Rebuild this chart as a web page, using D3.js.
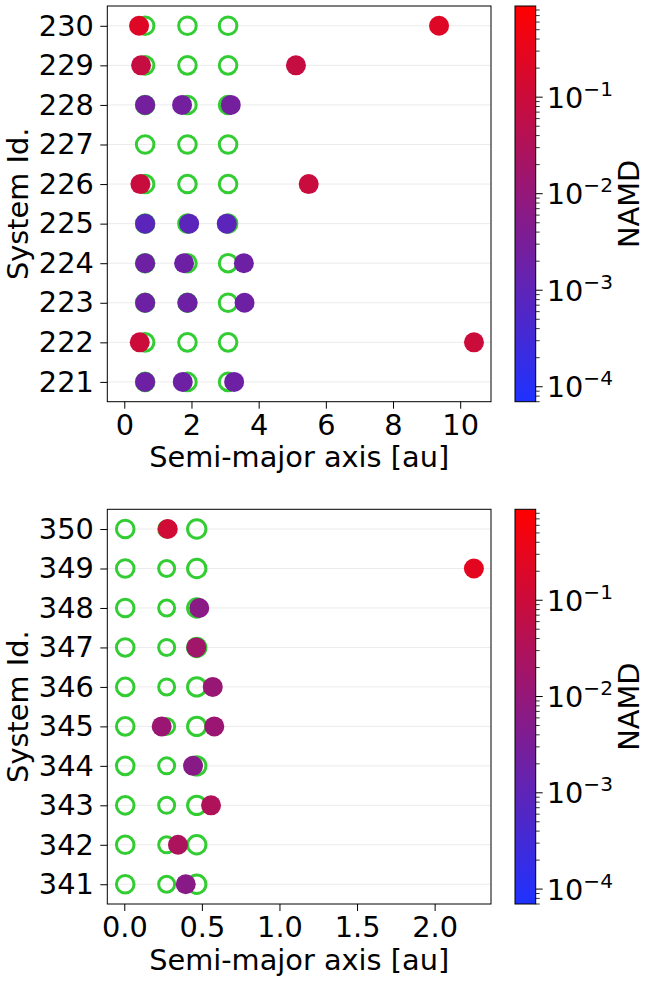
<!DOCTYPE html>
<html>
<head>
<meta charset="utf-8">
<script src="https://cdn.jsdelivr.net/npm/d3@7"></script>
<style>
  html, body { margin: 0; padding: 0; background: #fff; }
  svg { display: block; font-family: "DejaVu Sans", sans-serif; }
</style>
</head>
<body>
<svg id="fig" width="646" height="981"></svg>
<script>
// ---- data: panel 1 (systems 221-230) ----
const topIds = [221, 222, 223, 224, 225, 226, 227, 228, 229, 230];
const topNamd = [0.002, 0.1, 0.002, 0.002, 0.0009, 0.09, null, 0.0025, 0.08, 0.22];
const topRingA = [0.62, 1.88, 3.09];
const topRingR = [8.8, 8.8, 8.8];
const topPlanetSys = [230, 230, 229, 229, 228, 228, 228, 226, 226, 225, 225, 225,
                      224, 224, 224, 223, 223, 223, 222, 222, 221, 221, 221];
const topPlanetA = [0.44, 9.37, 0.50, 5.11, 0.62, 1.72, 3.17, 0.48, 5.49, 0.62, 1.93, 3.05,
                    0.62, 1.78, 3.56, 0.62, 1.88, 3.58, 0.46, 10.41, 0.62, 1.74, 3.27];
const topXTicks = [0, 2, 4, 6, 8, 10];

// ---- data: panel 2 (systems 341-350) ----
const botIds = [341, 342, 343, 344, 345, 346, 347, 348, 349, 350];
const botNamd = [0.006, 0.028, 0.032, 0.006, 0.013, 0.012, 0.017, 0.0065, 0.28, 0.12];
const botRingA = [0.006, 0.273, 0.467];
const botRingR = [8.8, 8.0, 9.2];
const botPlanetSys = [350, 349, 348, 347, 346, 345, 345, 344, 343, 342, 341];
const botPlanetA = [0.28, 2.253, 0.483, 0.464, 0.57, 0.241, 0.58, 0.443, 0.559, 0.346, 0.396];
const botXTicks = [0.0, 0.5, 1.0, 1.5, 2.0];

// colour scale limits and colourbar ticks
const namdMin = 7e-5, namdMax = 0.88;
const cbMajor = [1e-4, 1e-3, 1e-2, 1e-1];
const cbMajorExp = ["\u22124", "\u22123", "\u22122", "\u22121"];

const svg = d3.select("#fig");
const FS = 28.8;
const ringColor = "#32cd32";
const cmap = d3.interpolateRgb("#1e32ff", "#ff0000");
const colorScale = v => cmap((Math.log10(v) - Math.log10(namdMin)) / (Math.log10(namdMax) - Math.log10(namdMin)));

function panel(cfg) {
  const { top, bottom, ids, namd, ringA, ringR, pSys, pA, xDomain, xTicks, xFmt } = cfg;
  const left = 107.3, right = 491;
  const x = d3.scaleLinear().domain(xDomain).range([left, right]);
  const y = d3.scaleLinear().domain([d3.min(ids) - 0.5, d3.max(ids) + 0.5]).range([bottom, top]);
  const g = svg.append("g");

  // horizontal grid
  g.append("g").selectAll("line").data(ids).join("line")
    .attr("x1", left).attr("x2", right)
    .attr("y1", d => y(d)).attr("y2", d => y(d))
    .attr("stroke", "#ebebeb").attr("stroke-width", 1);

  // reference planets (open rings)
  const rings = [];
  ids.forEach(id => ringA.forEach((a, i) => rings.push({ id, a, r: ringR[i] })));
  g.append("g").selectAll("circle").data(rings).join("circle")
    .attr("cx", d => x(d.a)).attr("cy", d => y(d.id)).attr("r", d => d.r)
    .attr("fill", "none").attr("stroke", ringColor).attr("stroke-width", 3);

  // evolved planets, coloured by system NAMD
  const pts = pSys.map((s, i) => ({ s, a: pA[i], v: namd[ids.indexOf(s)] }));
  g.append("g").selectAll("circle").data(pts).join("circle")
    .attr("cx", d => x(d.a)).attr("cy", d => y(d.s)).attr("r", 10)
    .attr("fill", d => colorScale(d.v));

  // axes
  const ax = g.append("g").attr("transform", `translate(0,${bottom})`)
    .call(d3.axisBottom(x).tickValues(xTicks).tickFormat(xFmt).tickSize(7).tickPadding(6));
  const ay = g.append("g").attr("transform", `translate(${left},0)`)
    .call(d3.axisLeft(y).tickValues(ids).tickFormat(d3.format("d")).tickSize(7).tickPadding(6.5));
  [ax, ay].forEach(a => {
    a.select(".domain").remove();
    a.selectAll("text").attr("font-size", FS).attr("fill", "#000").attr("font-family", "DejaVu Sans");
    a.selectAll("line").attr("stroke", "#000").attr("stroke-width", 1);
  });

  // frame
  g.append("rect").attr("x", left).attr("y", top).attr("width", right - left).attr("height", bottom - top)
    .attr("fill", "none").attr("stroke", "#000").attr("stroke-width", 1);

  // axis titles
  g.append("text").attr("x", (left + right) / 2).attr("y", bottom + 65.5)
    .attr("text-anchor", "middle").attr("font-size", FS).text("Semi-major axis [au]");
  g.append("text").attr("transform", `translate(28,${(top + bottom) / 2}) rotate(-90)`)
    .attr("text-anchor", "middle").attr("font-size", FS).text("System Id.");

  // colourbar
  const cbL = 515, cbR = 535.7;
  const cy = d3.scaleLog().domain([namdMin, namdMax]).range([bottom, top]);
  const gradId = "grad" + Math.round(top);
  const grad = svg.append("defs").append("linearGradient").attr("id", gradId)
    .attr("x1", 0).attr("y1", 1).attr("x2", 0).attr("y2", 0);
  d3.range(0, 1.0001, 0.1).forEach(t => grad.append("stop").attr("offset", t).attr("stop-color", cmap(t)));
  g.append("rect").attr("x", cbL).attr("y", top).attr("width", cbR - cbL).attr("height", bottom - top)
    .attr("fill", `url(#${gradId})`).attr("stroke", "#000").attr("stroke-width", 1);

  const minors = [];
  for (let e = -5; e <= 0; e++) for (let m = 2; m <= 9; m++) {
    const v = m * Math.pow(10, e);
    if (v >= namdMin && v <= namdMax) minors.push(v);
  }
  g.append("g").selectAll("line").data(minors).join("line")
    .attr("x1", cbR).attr("x2", cbR + 4).attr("y1", d => cy(d)).attr("y2", d => cy(d))
    .attr("stroke", "#000").attr("stroke-width", 0.8);
  g.append("g").selectAll("line").data(cbMajor).join("line")
    .attr("x1", cbR).attr("x2", cbR + 7).attr("y1", d => cy(d)).attr("y2", d => cy(d))
    .attr("stroke", "#000").attr("stroke-width", 1);
  const lbl = g.append("g").selectAll("text").data(cbMajor).join("text")
    .attr("x", cbR + 11).attr("y", d => cy(d) + 10.5).attr("font-size", FS);
  lbl.append("tspan").text("10");
  lbl.append("tspan").attr("dy", -12).attr("font-size", FS * 0.7).text((d, i) => cbMajorExp[i]);

  g.append("text").attr("transform", `translate(639,${(top + bottom) / 2}) rotate(-90)`)
    .attr("text-anchor", "middle").attr("font-size", FS).text("NAMD");
}

panel({ top: 6, bottom: 401.7, ids: topIds, namd: topNamd, ringA: topRingA, ringR: topRingR,
        pSys: topPlanetSys, pA: topPlanetA, xDomain: [-0.506, 10.917], xTicks: topXTicks, xFmt: d3.format("d") });
panel({ top: 509.3, bottom: 904, ids: botIds, namd: botNamd, ringA: botRingA, ringR: botRingR,
        pSys: botPlanetSys, pA: botPlanetA, xDomain: [-0.1095, 2.3633], xTicks: botXTicks, xFmt: d3.format(".1f") });
</script>
</body>
</html>
